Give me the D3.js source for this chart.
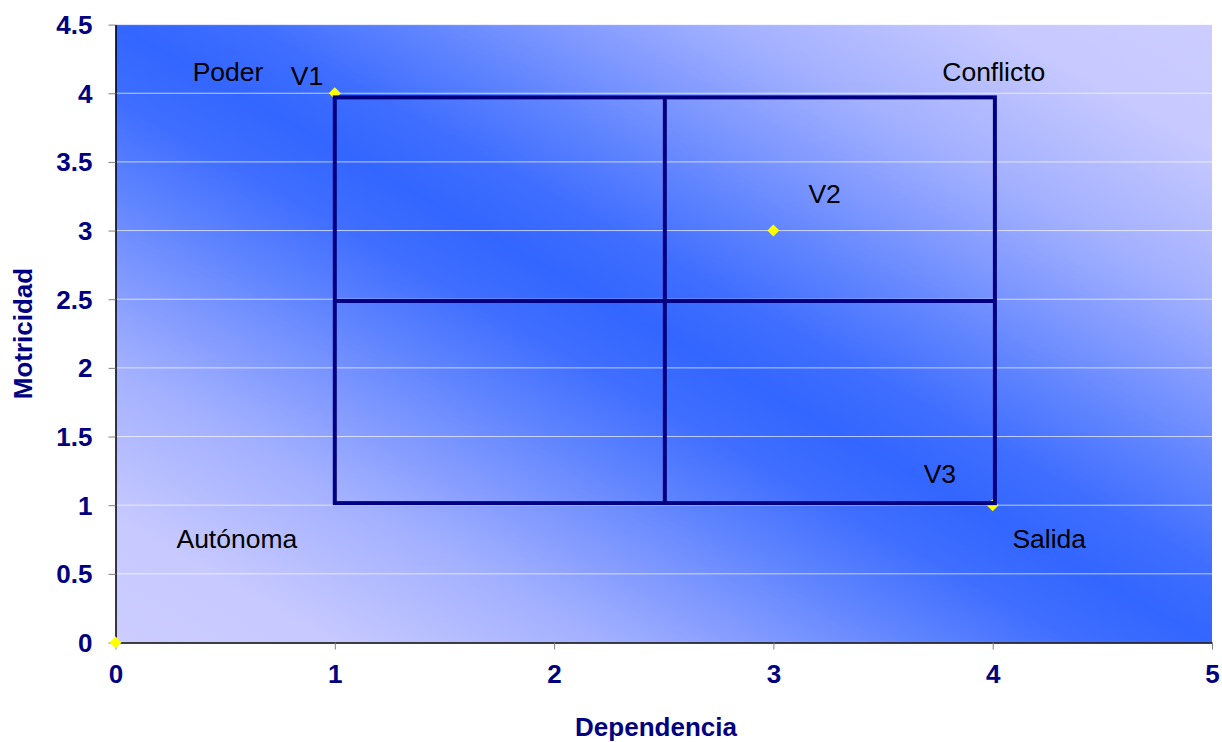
<!DOCTYPE html>
<html>
<head>
<meta charset="utf-8">
<script src="https://cdn.jsdelivr.net/npm/d3@7"></script>
<style>
  body { margin: 0; background: #fff; }
  svg { display: block; font-family: Arial, "Liberation Sans", sans-serif; }
</style>
</head>
<body>
<div id="chart"></div>
<script>
// points (dependencia, motricidad)
const pointNames = ["", "V1", "V2", "V3"];
const dependencia = [0, 1, 3, 4];
const motricidad = [0, 4, 3, 1];

// quadrant labels, placed in data units
const zoneNames = ["Poder", "Conflicto", "Autónoma", "Salida"];
const zoneX = [0.352, 3.77, 0.278, 4.09];
const zoneY = [4.09, 4.09, 0.69, 0.69];

// quadrant frame drawn on the chart
const frameX = [1, 2.505, 4.01];
const frameY = [1.015, 2.487, 3.97];

const xTicks = [0, 1, 2, 3, 4, 5];
const yTicks = [0, 0.5, 1, 1.5, 2, 2.5, 3, 3.5, 4, 4.5];

const W = 1222, H = 742;
const plotL = 115.5, plotR = 1212, plotT = 24.6, plotB = 642.5;

const svg = d3.select("#chart").append("svg")
    .attr("width", W).attr("height", H);

const x = d3.scaleLinear().domain([0, 5]).range([plotL, plotR]);
const y = d3.scaleLinear().domain([0, 4.5]).range([plotB, plotT]);

// background: light corners, blue band along the diagonal
// (pos = distance toward the band centre, amt = how blue)
const light = "#ccccff", blue = "#3366ff";
const mix = d3.interpolateRgb(light, blue);
const bandPos = [0, 0.2, 0.44, 0.6, 0.74, 0.88, 1];
const bandAmt = [0, 0.03, 0.26, 0.5, 0.72, 0.92, 1];
const grad = svg.append("defs").append("linearGradient")
    .attr("id", "bg").attr("x1", 0).attr("y1", 1).attr("x2", 1).attr("y2", 0);
const stops = bandPos.map((p, i) => [p / 2, bandAmt[i]])
    .concat(bandPos.slice(0, -1).reverse().map((p, i, a) => [1 - p / 2, bandAmt[bandPos.length - 2 - i]]));
grad.selectAll("stop").data(stops).join("stop")
    .attr("offset", d => d[0]).attr("stop-color", d => mix(d[1]));

svg.append("rect")
    .attr("x", plotL).attr("y", plotT)
    .attr("width", plotR - plotL).attr("height", plotB - plotT)
    .attr("fill", "url(#bg)");

// gridlines
svg.append("g").selectAll("line").data(yTicks.filter(d => d > 0)).join("line")
    .attr("x1", plotL).attr("x2", plotR)
    .attr("y1", d => y(d)).attr("y2", d => y(d))
    .attr("stroke", "#ffffff").attr("stroke-opacity", 0.65).attr("stroke-width", 1);

// axes
const yAxis = svg.append("g").attr("transform", `translate(${plotL},0)`)
    .call(d3.axisLeft(y).tickValues(yTicks).tickFormat(d => d).tickSize(7).tickSizeOuter(0).tickPadding(16));
const xAxis = svg.append("g").attr("transform", `translate(0,${plotB})`)
    .call(d3.axisBottom(x).tickValues(xTicks).tickFormat(d => d).tickSize(7).tickSizeOuter(0).tickPadding(15));

[xAxis, yAxis].forEach(ax => {
    ax.select(".domain").attr("stroke", "#000").attr("stroke-width", 1.5);
    ax.selectAll(".tick line").attr("stroke", "#808080");
    ax.selectAll(".tick text")
        .attr("fill", "#000080").attr("font-size", 26).attr("font-weight", "bold")
        .attr("font-family", "Arial, 'Liberation Sans', sans-serif");
});
yAxis.selectAll(".tick text").attr("dy", "0.34em");

// points
svg.append("g").selectAll("path").data(dependencia).join("path")
    .attr("d", d3.symbol(d3.symbolSquare, 72))
    .attr("transform", (d, i) => `translate(${x(d)},${y(motricidad[i])}) rotate(45)`)
    .attr("fill", "#ffff00");

// quadrant frame
const frame = svg.append("g").attr("stroke", "#000080").attr("stroke-width", 4).attr("fill", "none");
frame.append("rect")
    .attr("x", x(frameX[0])).attr("y", y(frameY[2]))
    .attr("width", x(frameX[2]) - x(frameX[0])).attr("height", y(frameY[0]) - y(frameY[2]));
frame.append("line")
    .attr("x1", x(frameX[1])).attr("x2", x(frameX[1]))
    .attr("y1", y(frameY[0])).attr("y2", y(frameY[2]));
frame.append("line")
    .attr("x1", x(frameX[0])).attr("x2", x(frameX[2]))
    .attr("y1", y(frameY[1])).attr("y2", y(frameY[1]));

// point labels (pixel offsets from their point)
const labelDx = [0, -44, 35, -69];
const labelDy = [0, -8, -28, -22];
svg.append("g").selectAll("text").data(pointNames).join("text")
    .attr("x", (d, i) => x(dependencia[i]) + labelDx[i])
    .attr("y", (d, i) => y(motricidad[i]) + labelDy[i])
    .attr("font-size", 26.5).attr("fill", "#000")
    .text(d => d);

svg.append("g").selectAll("text").data(zoneNames).join("text")
    .attr("x", (d, i) => x(zoneX[i]))
    .attr("y", (d, i) => y(zoneY[i]))
    .attr("font-size", 26.5).attr("fill", "#000")
    .text(d => d);

// axis titles
svg.append("text")
    .attr("x", 656).attr("y", 736)
    .attr("text-anchor", "middle")
    .attr("font-size", 26).attr("font-weight", "bold").attr("fill", "#000080")
    .text("Dependencia");
svg.append("text")
    .attr("transform", `translate(32,${(plotT + plotB) / 2}) rotate(-90)`)
    .attr("text-anchor", "middle")
    .attr("font-size", 26).attr("font-weight", "bold").attr("fill", "#000080")
    .text("Motricidad");
</script>
</body>
</html>
